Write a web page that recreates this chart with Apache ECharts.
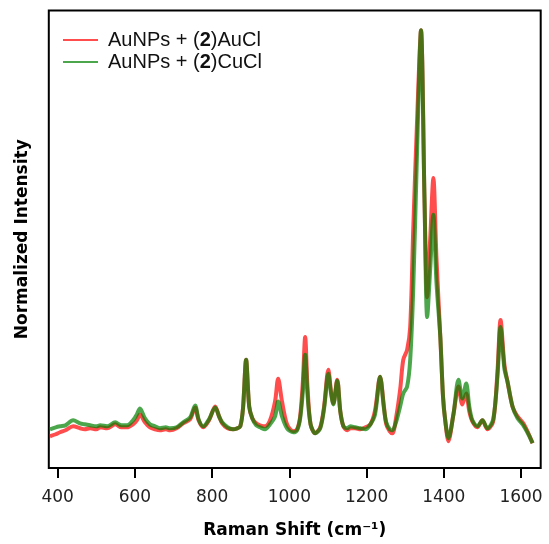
<!DOCTYPE html>
<html>
<head>
<meta charset="utf-8">
<script src="https://cdn.jsdelivr.net/npm/echarts@6/dist/echarts.min.js"></script>
<style>html,body{margin:0;padding:0;background:#fff}#c{width:549px;height:544px}</style>
</head>
<body>
<div id="c"></div>
<script>
// Raman shift (cm^-1)
const ramanShift = [380,395,406,420,440,458,470,484,500,510,528,549,565,580,595,605,613,626,639,652,665,680,691,708,725,743,756,765,777,792,808,818,826,840,854,865,873,880,888,896,904,914,924,937,950,963,971,981,994,1010,1020,1028,1035,1041,1047,1055,1067,1080,1090,1101,1108,1114,1124,1132,1140,1150,1158,1170,1184,1197,1210,1222,1235,1245,1251,1260,1267,1277,1287,1295,1305,1313,1321,1331,1341,1350,1357,1365,1373,1381,1391,1398,1404,1412,1425,1438,1448,1458,1466,1474,1487,1500,1513,1528,1539,1547,1557,1565,1578,1591,1606,1619,1630];
// Raw intensities (arbitrary units)
const auClRaw = [32,34,36,38,42,40,39,40,39,41,40,44,41,41,44,48,54,46,41,39,38,39,38,40,45,49,61,48,41,48,62,52,45,40,39,40,42,60,109,62,50,45,43,42,48,67,90,67,44,37,39,52,87,132,82,44,35,41,62,99,77,65,89,57,42,38,40,40,39,41,44,58,92,62,44,37,35,52,79,109,119,142,242,352,441,272,172,232,292,212,132,72,47,27,54,82,64,75,57,47,41,48,39,47,97,149,104,87,62,52,45,35,25];
const cuClRaw = [39,41,42,43,48,45,44,43,42,43,42,46,43,43,48,54,60,50,44,42,40,41,40,41,46,51,63,49,42,49,61,52,46,41,39,40,42,60,109,62,50,43,41,39,44,52,67,52,40,36,38,50,77,114,74,44,35,40,60,95,75,64,88,57,42,40,42,41,40,39,44,54,92,60,46,39,38,47,62,75,82,109,182,322,441,272,152,202,255,187,132,72,47,30,54,89,70,85,62,48,42,48,40,49,92,142,100,87,62,50,43,34,25];
const seriesNames = ['AuNPs + (2)AuCl', 'AuNPs + (2)CuCl'];
const xTicks = [400,600,800,1000,1200,1400,1600];

function normalize(arr){ const m = Math.max(...arr); return arr.map(v => v / m); }
const auCl = normalize(auClRaw), cuCl = normalize(cuClRaw);

const chart = echarts.init(document.getElementById('c'), null, {renderer:'canvas'});
const tickFont = 'DejaVu Sans';
chart.setOption({
  animation: false,
  backgroundColor: '#fff',
  grid: {left: 48.8, right: 8.3, top: 10.5, bottom: 72.5, show: true, borderColor: '#000', borderWidth: 2, backgroundColor: 'transparent'},
  legend: {
    left: 63, top: 29, orient: 'vertical', itemGap: 0, itemWidth: 35, itemHeight: 2, padding: 0,
    icon: 'rect',
    data: seriesNames,
    formatter: n => n.replace('(2)', '({b|2})'),
    textStyle: {fontFamily: 'Liberation Sans', fontSize: 20, color: '#111', lineHeight: 22, padding: [0,0,0,5],
      rich: {b: {fontFamily: 'Liberation Sans', fontSize: 20, fontWeight: 'bold', color: '#111', lineHeight: 22}}}
  },
  xAxis: {
    type: 'value', min: 377, max: 1651,
    name: 'Raman Shift (cm\u207B\u00B9)', nameLocation: 'middle', nameGap: 54,
    nameTextStyle: {fontFamily: tickFont, fontSize: 17, fontWeight: 'bold', color: '#000'},
    axisLine: {show: false},
    splitLine: {show: false},
    axisTick: {show: true, length: 10, lineStyle: {color: '#000', width: 2}, customValues: xTicks},
    axisLabel: {fontFamily: tickFont, fontSize: 17, color: '#222', margin: 21, customValues: xTicks, formatter: v => String(v)}
  },
  yAxis: {
    type: 'value', min: 0, max: 1.045,
    name: 'Normalized Intensity', nameLocation: 'middle', nameGap: 18,
    nameTextStyle: {fontFamily: tickFont, fontSize: 17, fontWeight: 'bold', color: '#000'},
    axisLine: {show: false}, axisTick: {show: false}, axisLabel: {show: false}, splitLine: {show: false}
  },
  series: [
    {name: seriesNames[0], type: 'line', data: ramanShift.map((x,i)=>[x, auCl[i]]), showSymbol: false, symbol: 'none', smooth: 0.3,
     itemStyle: {color: 'rgba(255,0,0,0.7)'}, lineStyle: {color: 'rgba(255,0,0,0.7)', width: 4}, z: 2},
    {name: seriesNames[1], type: 'line', data: ramanShift.map((x,i)=>[x, cuCl[i]]), showSymbol: false, symbol: 'none', smooth: 0.3,
     itemStyle: {color: 'rgba(0,128,0,0.7)'}, lineStyle: {color: 'rgba(0,128,0,0.7)', width: 4}, z: 3}
  ]
});
</script>
</body>
</html>
